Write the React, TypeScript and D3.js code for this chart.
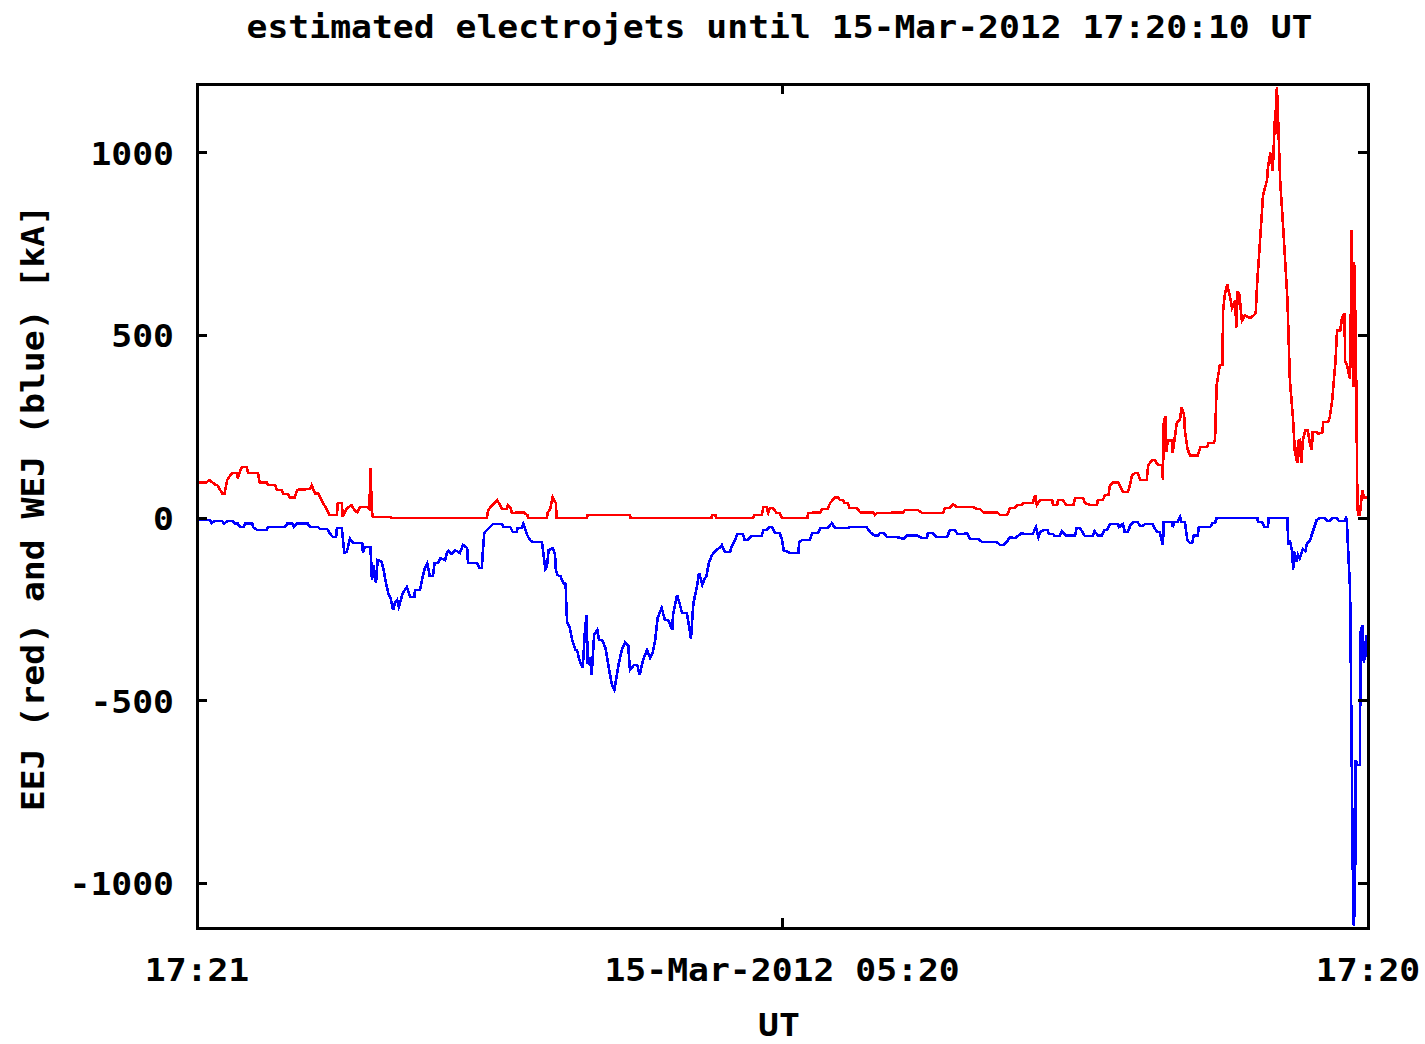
import React from 'react';
import * as d3 from 'd3';

// minutes since 14-Mar-2012 17:21 UT
const redTime = [1,12,15,22,25,31,34,37,43,49,50,55,61,63,75,77,86,87,96,98,104,106,112,114,120,123,139,141,145,149,154,160,163,172,173,178,179,184,190,194,197,200,209,212,213,215,216,237,240,356,358,363,369,371,375,381,382,385,387,391,393,401,406,407,430,431,434,437,441,442,479,480,532,533,632,633,637,638,683,685,694,696,700,702,704,708,712,716,719,750,751,756,757,766,768,775,778,784,788,790,794,796,800,802,811,815,831,833,836,852,855,868,870,886,891,917,919,925,929,934,954,959,962,966,983,987,995,997,999,1005,1008,1014,1015,1027,1030,1032,1036,1051,1052,1057,1058,1064,1068,1077,1079,1089,1091,1097,1106,1107,1113,1116,1120,1122,1126,1132,1134,1138,1144,1147,1149,1153,1156,1159,1167,1169,1174,1177,1181,1186,1187,1188,1190,1191,1193,1198,1199,1204,1208,1210,1213,1214,1217,1220,1230,1233,1241,1243,1249,1251,1253,1257,1260,1261,1263,1266,1269,1272,1276,1277,1279,1281,1284,1288,1294,1296,1301,1303,1306,1310,1315,1316,1319,1322,1325,1326,1327,1328,1331,1335,1340,1343,1347,1349,1352,1353,1355,1357,1359,1362,1365,1368,1370,1371,1376,1378,1383,1384,1390,1392,1395,1399,1401,1405,1407,1410,1411,1413,1417,1419,1421,1422,1424,1426,1427,1429,1432,1434,1438];
const redValue = [98,98,104,92,90,68,68,104,123,123,109,140,140,123,123,98,98,90,90,77,77,66,66,57,57,77,80,90,68,68,44,22,8,8,41,41,3,27,35,20,16,30,30,25,137,20,3,3,0,0,22,36,49,41,25,25,36,30,14,14,16,16,8,0,0,15,25,57,41,0,0,8,8,0,0,8,8,0,0,8,8,30,30,14,27,27,14,14,0,0,14,14,16,16,25,25,41,57,57,49,49,41,41,27,27,16,16,8,14,14,16,16,22,22,14,14,27,27,38,30,30,25,25,16,16,8,8,16,27,27,36,36,41,41,63,36,49,49,36,36,49,49,36,36,55,55,41,36,36,49,49,63,63,90,98,98,90,71,71,96,118,123,123,104,104,145,159,159,145,145,104,260,280,180,213,213,178,260,270,304,282,240,192,172,172,194,194,205,205,213,364,419,419,569,610,640,610,575,597,520,620,610,540,555,547,550,560,651,747,884,925,960,1000,950,1116,1050,1180,1130,925,788,597,378,268,186,150,210,213,150,213,240,240,200,186,235,235,230,235,263,263,276,323,427,514,514,547,560,430,419,380,788,358,700,500,30,8,8,77,57,57];

const blueTime = [1,16,18,22,31,33,38,44,47,50,53,57,59,68,69,74,86,87,108,111,117,119,123,136,139,149,151,160,163,167,171,172,178,181,184,188,192,203,204,206,213,214,215,217,220,222,227,230,232,235,238,241,243,246,248,253,258,262,267,268,274,277,280,283,286,290,292,296,299,305,307,309,313,317,323,327,332,333,344,347,350,351,353,356,360,364,375,377,385,388,393,394,399,401,406,409,413,424,425,428,430,432,437,440,441,443,447,450,453,454,455,458,461,465,467,470,474,477,479,480,483,485,488,492,494,498,502,506,510,513,515,518,522,526,530,532,537,541,544,548,553,557,560,563,566,571,575,579,584,585,590,593,596,602,605,607,610,614,617,621,623,626,629,633,638,643,645,649,655,657,660,664,671,673,677,681,694,696,700,703,707,710,716,719,721,729,739,740,744,753,756,763,766,775,780,784,800,802,823,827,832,837,839,844,848,860,868,873,885,891,897,898,904,909,922,925,931,935,941,946,950,960,965,983,987,991,995,999,1005,1009,1013,1018,1027,1031,1034,1036,1041,1045,1047,1052,1054,1060,1063,1067,1079,1081,1085,1088,1091,1101,1103,1107,1112,1115,1118,1122,1132,1133,1138,1140,1144,1147,1151,1156,1159,1162,1165,1174,1176,1180,1183,1187,1188,1198,1199,1201,1205,1208,1210,1214,1217,1220,1223,1225,1230,1231,1245,1248,1251,1253,1303,1304,1309,1312,1316,1317,1340,1341,1343,1346,1347,1348,1351,1353,1355,1359,1362,1364,1368,1370,1373,1376,1380,1386,1389,1392,1395,1401,1403,1410,1412,1413,1414,1417,1421,1423,1424,1426,1429,1430,1432,1434,1437,1438];
const blueValue = [-5,-5,-14,-8,-8,-15,-8,-8,-15,-15,-25,-25,-15,-15,-25,-33,-33,-25,-25,-15,-15,-25,-15,-15,-25,-25,-30,-30,-41,-52,-52,-27,-27,-95,-93,-57,-68,-68,-96,-79,-79,-115,-170,-130,-178,-115,-120,-150,-175,-205,-220,-252,-233,-224,-243,-205,-189,-216,-216,-197,-197,-164,-137,-123,-159,-159,-123,-123,-110,-115,-96,-90,-98,-88,-95,-74,-82,-123,-123,-137,-137,-101,-41,-33,-25,-16,-16,-25,-25,-38,-38,-27,-27,-16,-47,-60,-66,-66,-85,-140,-134,-88,-82,-100,-142,-156,-160,-178,-180,-250,-287,-298,-334,-361,-361,-389,-410,-300,-265,-400,-380,-430,-320,-306,-334,-334,-356,-410,-457,-470,-443,-402,-361,-340,-350,-416,-402,-402,-430,-389,-361,-383,-369,-334,-274,-246,-279,-279,-306,-265,-211,-233,-260,-260,-300,-330,-233,-192,-150,-183,-170,-159,-123,-101,-88,-80,-74,-93,-93,-79,-66,-44,-44,-60,-60,-49,-49,-33,-33,-25,-25,-41,-41,-60,-88,-96,-96,-66,-60,-60,-41,-41,-27,-27,-14,-27,-27,-25,-25,-38,-47,-47,-41,-41,-52,-52,-57,-47,-47,-55,-55,-41,-41,-52,-52,-33,-33,-44,-44,-41,-57,-57,-66,-66,-74,-74,-66,-52,-55,-49,-41,-44,-44,-25,-52,-38,-33,-33,-44,-44,-49,-49,-36,-47,-47,-27,-27,-38,-49,-49,-36,-47,-47,-33,-33,-16,-16,-25,-16,-38,-38,-19,-11,-11,-22,-22,-16,-16,-25,-38,-38,-74,-11,-11,-25,-11,-11,3,-11,-11,-60,-68,-68,-47,-47,-25,-25,-14,-14,0,0,-11,-11,-25,-25,0,0,-74,-60,-95,-142,-90,-120,-100,-110,-85,-90,-70,-60,-45,-25,-5,0,0,-8,-8,0,0,-8,-8,0,-5,-60,-197,-1115,-1073,-662,-676,-676,-310,-293,-397,-320,-380];

const yTicks = [-1000, -500, 0, 500, 1000];
const xTickMinutes = [0, 719, 1439];
const xTickLabels = ['17:21', '15-Mar-2012 05:20', '17:20'];
const titleText = 'estimated electrojets until 15-Mar-2012 17:20:10 UT';
const xLabelText = 'UT';
const yLabelText = 'EEJ (red) and WEJ (blue) [kA]';

const CH = 20.9;
const FONT = "'DejaVu Sans Mono', 'Liberation Mono', monospace";

export default function App() {
  const W = 1425, H = 1044;
  const left = 197, right = 1368, top = 84, bottom = 928;
  const x = d3.scaleLinear().domain([0, 1439]).range([left, right]);
  const y = d3.scaleLinear().domain([-1122, 1188]).range([bottom, top]);

  const mk = (t: number[], v: number[]) =>
    d3.line<number>().x((d) => x(t[d])).y((d) => y(v[d]))(d3.range(t.length)) || '';

  const redPath = mk(redTime, redValue);
  const bluePath = mk(blueTime, blueValue);

  const txt = (s: string, props: any) => (
    <text
      fontFamily={FONT}
      fontWeight="bold"
      fontSize={32}
      fill="#000"
      textLength={s.length * CH}
      lengthAdjust="spacingAndGlyphs"
      {...props}
    >
      {s}
    </text>
  );

  return (
    <svg width={W} height={H} style={{ position: 'absolute', left: 0, top: 0, background: '#fff' }}>
      <rect x={0} y={0} width={W} height={H} fill="#fff" />
      <defs>
        <clipPath id="plotclip">
          <rect x={left} y={top} width={right - left} height={bottom - top} />
        </clipPath>
      </defs>
      {txt(titleText, { x: 779.5, y: 38, textAnchor: 'middle' })}
      <g clipPath="url(#plotclip)">
        <path d={redPath} fill="none" stroke="#ff0000" strokeWidth={2.6} strokeLinejoin="miter" shapeRendering="crispEdges" />
        <path d={bluePath} fill="none" stroke="#0000ff" strokeWidth={2.6} strokeLinejoin="miter" shapeRendering="crispEdges" />
      </g>
      <g stroke="#000" strokeWidth={3} shapeRendering="crispEdges">
        {yTicks.map((t) => (
          <g key={t}>
            <line x1={left} x2={left + 10} y1={y(t)} y2={y(t)} />
            <line x1={right - 10} x2={right} y1={y(t)} y2={y(t)} />
          </g>
        ))}
        {xTickMinutes.map((m) => (
          <g key={m}>
            <line x1={x(m)} x2={x(m)} y1={bottom} y2={bottom - 10} />
            <line x1={x(m)} x2={x(m)} y1={top} y2={top + 10} />
          </g>
        ))}
        <rect x={left} y={top} width={right - left} height={bottom - top} fill="none" strokeWidth={3} />
      </g>
      {yTicks.map((t) => (
        <React.Fragment key={t}>{txt(String(t), { x: 174, y: y(t) + 12, textAnchor: 'end' })}</React.Fragment>
      ))}
      {xTickMinutes.map((m, i) => (
        <React.Fragment key={m}>{txt(xTickLabels[i], { x: x(m), y: 981, textAnchor: 'middle' })}</React.Fragment>
      ))}
      {txt(xLabelText, { x: 779, y: 1036, textAnchor: 'middle' })}
      {txt(yLabelText, { x: 0, y: 0, textAnchor: 'middle', transform: 'translate(44,508) rotate(-90)' })}
    </svg>
  );
}
